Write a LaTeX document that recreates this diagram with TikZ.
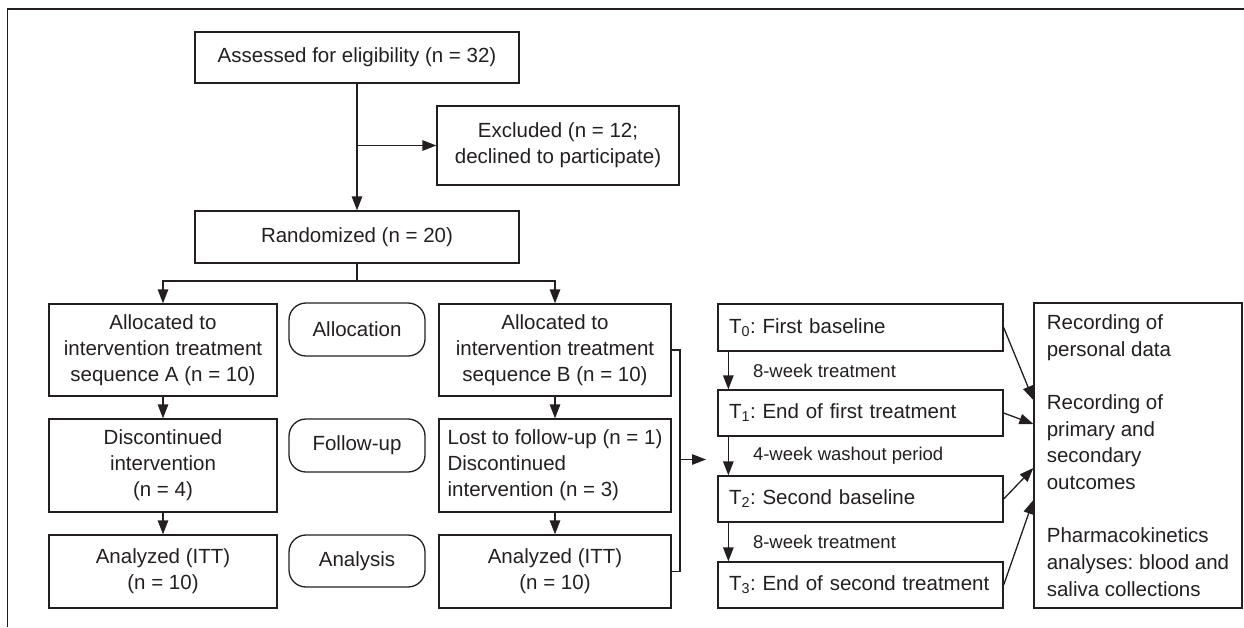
\documentclass[tikz,border=0pt]{standalone}
\usepackage{fontspec}
\setmainfont{Liberation Sans}
\usetikzlibrary{arrows.meta}
\definecolor{ink}{HTML}{231F20}
\frenchspacing
\begin{document}
\begin{tikzpicture}[x=1pt,y=-1pt,
  every node/.style={font=\fontsize{20.5}{26}\selectfont, text=ink},
  box/.style={draw=ink, line width=1.3pt, align=center, inner sep=0pt},
  colA/.style={box, minimum width=228pt},
  colB/.style={box, minimum width=232pt},
  stage/.style={box, rounded corners=17pt, minimum width=136pt, minimum height=53pt},
  tbox/.style={box, minimum width=285pt, minimum height=46pt, text width=263pt, align=left},
  conn/.style={draw=ink, line width=1.3pt},
  arr/.style={conn, -{Triangle[length=14pt,width=10.5pt]}},
  lbl/.style={font=\fontsize{18.5}{22}\selectfont, inner sep=0pt, anchor=west}
]
\useasboundingbox (0,0) rectangle (1244,627);
% outer frame
\draw[draw=ink, line width=1.8pt] (1244,9) -- (7.5,9) -- (7.5,627);

% CONSORT part
\node[box, minimum width=324pt, minimum height=51pt] (assess) at (357,57.5) {Assessed for eligibility (n = 32)};
\node[box, minimum width=242pt, minimum height=79pt] (excl) at (558,145.5) {Excluded (n = 12;\\declined to participate)};
\node[box, minimum width=324pt, minimum height=52pt] (rand) at (357,237) {Randomized (n = 20)};

\node[colA, minimum height=92pt] (allocA) at (163,350) {Allocated to\\intervention treatment\\sequence A (n = 10)};
\node[stage] (sAlloc) at (357,329.5) {Allocation};
\node[colB, minimum height=92pt] (allocB) at (555,350) {Allocated to\\intervention treatment\\sequence B (n = 10)};

\node[colA, minimum height=93pt] (discA) at (163,465.5) {Discontinued\\intervention\\(n = 4)};
\node[stage] (sFollow) at (357,445.5) {Follow-up};
\node[colB, minimum height=93pt, align=left] (lostB) at (555,465.5) {Lost to follow-up (n = 1)\\Discontinued\\intervention (n = 3)};

\node[colA, minimum height=73pt] (anaA) at (163,571.5) {Analyzed (ITT)\\(n = 10)};
\node[stage, minimum height=52pt] (sAna) at (357,561) {Analysis};
\node[colB, minimum height=73pt] (anaB) at (555,571.5) {Analyzed (ITT)\\(n = 10)};

\draw[arr] (assess.south) -- (rand.north);
\draw[arr] (excl.west -| assess.south) -- (excl.west);
\coordinate (split) at (357,281);
\draw[conn] (rand.south) -- (split);
\draw[arr] (split) -| (allocA.north);
\draw[arr] (split) -| (allocB.north);
\draw[arr] (allocA.south) -- (discA.north);
\draw[arr] (discA.south) -- (anaA.north);
\draw[arr] (allocB.south) -- (lostB.north);
\draw[arr] (lostB.south) -- (anaB.north);

% bracket to the timeline
\coordinate (bk) at (680,459.5);
\coordinate (tl) at (706,459.5);
\draw[conn] (allocB.east) -- (allocB.east -| bk) -- (anaB.east -| bk) -- (anaB.east);
\draw[arr] (bk) -- (tl);

% timeline
\node[tbox, minimum height=47pt] (T0) at (860.5,327.5) {\mbox{T\textsubscript{0}: First baseline}};
\node[tbox] (T1) at (860.5,413) {\mbox{T\textsubscript{1}: End of first treatment}};
\node[tbox] (T2) at (860.5,499) {\mbox{T\textsubscript{2}: Second baseline}};
\node[tbox] (T3) at (860.5,585) {\mbox{T\textsubscript{3}: End of second treatment}};

\draw[arr] ([xshift=11pt]T0.south west) -- node[lbl, midway, xshift=24pt] (L1) {8-week treatment} ([xshift=11pt]T1.north west);
\draw[arr] ([xshift=11pt]T1.south west) -- node[lbl, midway, xshift=24pt] (L2) {4-week washout period} ([xshift=11pt]T2.north west);
\draw[arr] ([xshift=11pt]T2.south west) -- node[lbl, midway, xshift=24pt] (L3) {8-week treatment} ([xshift=11pt]T3.north west);

% outcomes box
\node[box, minimum width=208pt, minimum height=305pt, align=left, font=\fontsize{20.5}{26.7}\selectfont] (R) at (1138,455.5)
  {Recording of\\personal data\\[26.7pt]Recording of\\primary and\\secondary\\outcomes\\[26.7pt]Pharmacokinetics\\analyses: blood and\\saliva collections};

\draw[arr] (T0.east) -- ([yshift=55.5pt]R.west);
\draw[arr] (T1.east) -- ([yshift=31.5pt]R.west);
\draw[arr] (T2.east) -- ([yshift=-12.5pt]R.west);
\draw[arr] (T3.east) -- ([yshift=-44.5pt]R.west);
\end{tikzpicture}
\end{document}
